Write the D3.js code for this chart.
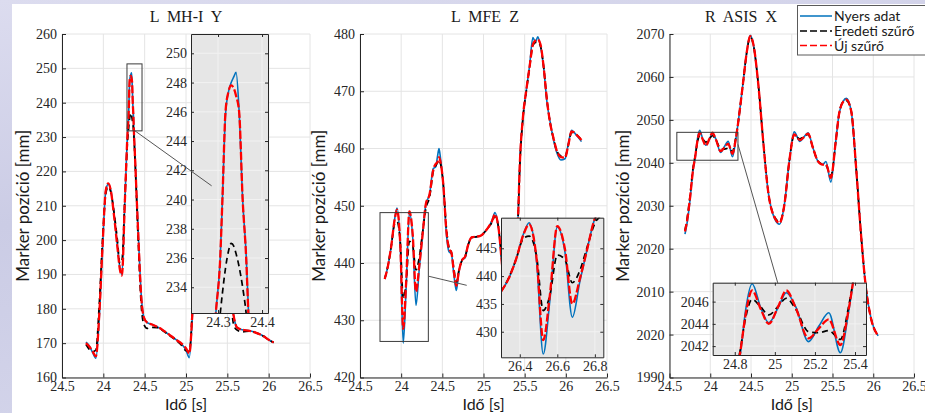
<!DOCTYPE html>
<html>
<head>
<meta charset="utf-8">
<script src="https://cdn.jsdelivr.net/npm/d3@7"></script>
<style>
  html, body { margin: 0; padding: 0; }
  body { width: 925px; height: 413px; overflow: hidden; background: #d4d5ea; }
  svg { display: block; }
</style>
</head>
<body>
<svg id="chart" width="925" height="413"></svg>
<script>
// ---- shared axis ticks ----
const xTickValues = [23.5, 24, 24.5, 25, 25.5, 26, 26.5];
const xTickLabels = ["24.5", "24", "24.5", "25", "25.5", "26", "26.5"];
const legendLabels = ["Nyers adat", "Eredeti szűrő", "Új szűrő"];

// ---- L MH-I Y ----
const mhTime = [23.79, 23.83, 23.87, 23.91, 23.95, 23.99, 24.03, 24.06, 24.09, 24.13, 24.17, 24.20, 24.225, 24.26, 24.295, 24.305, 24.31, 24.317, 24.324, 24.33, 24.336, 24.341, 24.348, 24.356, 24.364, 24.369, 24.38, 24.42, 24.46, 24.49, 24.53, 24.58, 24.65, 24.72, 24.80, 24.88, 24.95, 25.00, 25.04, 25.08, 25.12, 25.16, 25.19, 25.22, 25.26, 25.30, 25.33, 25.35, 25.38, 25.41, 25.44, 25.47, 25.51, 25.55, 25.58, 25.62, 25.68, 25.77, 25.85, 25.94, 26.00, 26.06];
const mhRaw = [170.3, 169.2, 167.3, 165.6, 177.0, 197.5, 214.5, 216.3, 214.5, 207.5, 198.5, 192.0, 190.0, 211.0, 232.2, 236.0, 240.0, 245.8, 247.4, 248.0, 248.4, 248.7, 246.0, 240.0, 236.2, 232.5, 226.5, 203.5, 183.5, 177.5, 176.0, 175.5, 174.8, 173.8, 172.4, 171.0, 169.6, 168.0, 165.8, 179.0, 200.0, 214.0, 216.0, 213.0, 205.0, 196.0, 191.0, 190.0, 208.0, 230.0, 247.0, 230.0, 203.0, 183.0, 177.5, 174.5, 173.9, 173.6, 173.0, 172.0, 171.0, 170.2];
const mhOrig = [169.6, 168.2, 167.5, 168.0, 181.0, 200.0, 213.5, 215.5, 214.0, 208.0, 200.0, 193.2, 194.0, 212.0, 229.5, 232.2, 233.6, 235.3, 236.5, 237.0, 236.8, 236.3, 235.4, 234.0, 232.2, 230.5, 225.0, 201.0, 180.5, 175.5, 174.3, 174.6, 174.5, 173.6, 172.2, 170.8, 169.3, 167.8, 167.6, 181.0, 200.0, 213.0, 215.0, 212.5, 205.0, 196.5, 192.5, 193.0, 207.0, 228.0, 236.0, 228.0, 201.0, 181.0, 175.0, 173.8, 173.3, 173.5, 173.0, 172.0, 171.0, 170.2];
const mhNew = [170.0, 169.0, 167.6, 166.2, 178.0, 198.0, 214.5, 216.5, 214.5, 207.0, 198.0, 191.5, 189.7, 211.0, 232.2, 236.0, 240.0, 246.0, 247.4, 247.8, 247.6, 247.1, 246.0, 240.0, 236.0, 232.2, 226.0, 203.0, 183.0, 177.5, 176.0, 175.5, 174.8, 173.8, 172.4, 171.0, 169.8, 168.5, 167.0, 180.0, 200.0, 214.0, 216.0, 213.0, 205.0, 196.0, 191.0, 190.0, 208.0, 230.0, 246.0, 230.0, 203.0, 183.0, 177.5, 174.5, 173.9, 173.6, 173.0, 172.0, 171.0, 170.2];
const mhYTicks = [160, 170, 180, 190, 200, 210, 220, 230, 240, 250, 260];
const mhYTickLabels = ["160", "170", "180", "190", "200", "210", "220", "230", "240", "250", "260"];
const mhInsetXTicks = [24.3, 24.4];
const mhInsetXTickLabels = ["24.3", "24.4"];
const mhInsetYTicks = [234, 236, 238, 240, 242, 244, 246, 248, 250];

// ---- L MFE Z ----
const mfeTime = [23.80, 23.84, 23.88, 23.92, 23.95, 23.99, 24.025, 24.06, 24.10, 24.14, 24.18, 24.22, 24.257, 24.30, 24.345, 24.39, 24.42, 24.44, 24.46, 24.48, 24.51, 24.55, 24.58, 24.61, 24.64, 24.67, 24.70, 24.74, 24.78, 24.81, 24.86, 24.92, 24.97, 25.02, 25.07, 25.10, 25.14, 25.18, 25.23, 25.28, 25.33, 25.38, 25.42, 25.44, 25.48, 25.52, 25.56, 25.60, 25.63, 25.66, 25.69, 25.73, 25.77, 25.81, 25.85, 25.89, 25.94, 25.99, 26.03, 26.07, 26.13, 26.19];
const mfeRaw = [437.2, 439.5, 443.0, 447.6, 449.6, 442.5, 426.0, 435.5, 448.8, 444.5, 432.6, 439.0, 444.5, 450.3, 452.0, 456.5, 456.8, 458.5, 460.0, 458.0, 454.0, 445.0, 442.0, 441.6, 438.0, 435.2, 438.3, 440.5, 441.0, 443.0, 444.5, 444.6, 444.8, 445.5, 446.5, 447.3, 448.8, 446.4, 439.0, 432.5, 434.0, 441.0, 448.0, 457.0, 465.6, 470.2, 474.5, 479.4, 478.6, 479.5, 478.0, 474.3, 468.2, 464.6, 461.5, 459.3, 458.0, 458.2, 460.8, 463.2, 462.3, 461.2];
const mfeOrig = [437.2, 439.6, 443.0, 446.8, 447.2, 443.5, 433.8, 436.5, 443.8, 443.0, 438.8, 441.0, 445.0, 449.5, 451.5, 456.0, 457.0, 457.5, 458.0, 457.2, 454.0, 446.0, 442.8, 441.9, 439.0, 436.6, 438.6, 440.5, 441.3, 443.0, 444.4, 444.6, 444.8, 445.5, 446.4, 447.0, 448.2, 446.4, 439.5, 434.0, 435.0, 441.0, 448.0, 456.5, 465.4, 470.0, 474.2, 478.0, 478.5, 478.6, 478.0, 474.3, 468.6, 464.4, 461.8, 459.6, 458.7, 458.6, 460.6, 462.8, 462.4, 461.5];
const mfeNew = [437.2, 439.5, 443.0, 447.5, 449.3, 443.0, 428.5, 436.5, 449.0, 445.0, 435.0, 439.5, 444.5, 450.3, 452.0, 456.3, 457.3, 457.6, 458.5, 457.5, 454.0, 445.5, 442.5, 441.8, 438.5, 436.0, 438.5, 440.5, 441.2, 443.0, 444.5, 444.6, 444.8, 445.5, 446.5, 447.2, 448.5, 446.4, 439.0, 433.0, 434.5, 441.0, 448.0, 456.9, 465.6, 470.2, 474.3, 478.2, 478.8, 479.0, 478.3, 474.3, 468.5, 464.4, 461.8, 459.6, 458.5, 458.4, 460.6, 463.0, 462.4, 461.5];
const mfeYTicks = [420, 430, 440, 450, 460, 470, 480];
const mfeYTickLabels = ["420", "430", "440", "450", "460", "470", "480"];
const mfeInsetXTicks = [26.4, 26.6, 26.8];
const mfeInsetXTickLabels = ["26.4", "26.6", "26.8"];
const mfeInsetYTicks = [430, 435, 440, 445];

// ---- R ASIS X ----
const asisTime = [23.69, 23.72, 23.75, 23.79, 23.817, 23.84, 23.87, 23.91, 23.946, 23.99, 24.026, 24.07, 24.127, 24.175, 24.22, 24.273, 24.31, 24.34, 24.37, 24.40, 24.45, 24.49, 24.53, 24.59, 24.65, 24.71, 24.79, 24.85, 24.91, 24.97, 25.03, 25.10, 25.15, 25.20, 25.26, 25.32, 25.38, 25.42, 25.48, 25.54, 25.58, 25.63, 25.67, 25.73, 25.79, 25.85, 25.91, 25.97, 26.06];
const asisRaw = [2023.4, 2026.5, 2031.0, 2038.5, 2041.4, 2045.2, 2047.6, 2045.4, 2044.1, 2045.5, 2046.8, 2045.5, 2042.4, 2043.8, 2045.0, 2041.4, 2045.0, 2049.0, 2053.5, 2058.2, 2066.0, 2069.7, 2067.5, 2058.2, 2045.0, 2033.4, 2027.0, 2025.7, 2030.3, 2040.4, 2047.2, 2045.0, 2046.0, 2047.0, 2043.5, 2040.4, 2039.6, 2040.3, 2035.5, 2045.0, 2051.3, 2054.3, 2055.0, 2052.0, 2038.8, 2023.3, 2010.9, 2004.0, 1999.7];
const asisOrig = [2024.3, 2027.5, 2032.0, 2039.0, 2041.8, 2044.5, 2046.2, 2045.5, 2044.8, 2045.6, 2046.3, 2045.3, 2043.3, 2043.2, 2043.4, 2042.6, 2045.5, 2049.0, 2053.5, 2058.2, 2066.0, 2069.3, 2067.4, 2058.2, 2045.0, 2033.4, 2027.4, 2026.3, 2030.3, 2040.4, 2046.4, 2045.6, 2046.1, 2046.6, 2043.5, 2040.4, 2039.6, 2039.4, 2037.0, 2045.0, 2051.3, 2054.2, 2054.5, 2052.0, 2038.8, 2023.3, 2010.9, 2004.0, 1999.7];
const asisNew = [2024.0, 2027.0, 2031.5, 2038.5, 2041.6, 2044.8, 2047.0, 2045.3, 2044.0, 2045.6, 2047.0, 2045.4, 2042.7, 2043.6, 2044.4, 2042.1, 2045.2, 2049.0, 2053.5, 2058.2, 2066.0, 2069.5, 2067.5, 2058.2, 2045.0, 2033.4, 2027.2, 2026.0, 2030.3, 2040.4, 2046.6, 2045.3, 2046.0, 2046.8, 2043.5, 2040.4, 2039.6, 2039.6, 2036.5, 2045.0, 2051.3, 2054.2, 2054.7, 2052.0, 2038.8, 2023.3, 2010.9, 2004.0, 1999.7];
const asisYTicks = [1990, 2000, 2010, 2020, 2030, 2040, 2050, 2060, 2070];
const asisYTickLabels = ["1990", "2020", "2010", "2020", "2030", "2040", "2050", "2060", "2070"];
const asisInsetXTicks = [24.8, 25, 25.2, 25.4];
const asisInsetXTickLabels = ["24.8", "25", "25.2", "25.4"];
const asisInsetYTicks = [2042, 2044, 2046];

// ---- layout & styling ----
const W = 925, H = 413;
const PLOT_TOP = 34, PLOT_BOTTOM = 377.5;
const TICK_FONT = "'Liberation Serif', 'DejaVu Serif', serif";
const TICK_SIZE = 14;
const LABEL_FONT = "Lato, 'Open Sans', sans-serif";
const AXIS_COLOR = "#262626";
const GRID_COLOR = "#e4e4e4";

const seriesStyles = [
  { key: "raw",  color: "#0072BD", width: 1.6, dash: null },
  { key: "orig", color: "#000000", width: 1.7, dash: "6,4" },
  { key: "new",  color: "#FF0000", width: 2.3, dash: "8,2.5" }
];

const panels = [
  {
    id: "mh", title: "L  MH-I  Y", titleX: 186,
    left: 62, right: 310, yLabelX: 22,
    time: mhTime, raw: mhRaw, orig: mhOrig, new: mhNew,
    yDomain: [160, 260], yTicks: mhYTicks, yLabels: mhYTickLabels,
    zoomBox: { x: [24.286, 24.468], y: [231.8, 251.3] },
    connector: [[24.383, 231.8], [25.31, 215.8]],
    inset: {
      box: { x0: 191, y0: 34, x1: 268, y1: 313 },
      xData: [24.2386, 24.4136], xAxis: [24.2386, 24.4136],
      yDomain: [232.24, 251.32],
      xTicks: mhInsetXTicks, xLabels: mhInsetXTickLabels, yTicks: mhInsetYTicks
    }
  },
  {
    id: "mfe", title: "L  MFE  Z", titleX: 485,
    left: 360, right: 607, yLabelX: 318,
    time: mfeTime, raw: mfeRaw, orig: mfeOrig, new: mfeNew,
    yDomain: [420, 480], yTicks: mfeYTicks, yLabels: mfeYTickLabels,
    zoomBox: { x: [23.743, 24.33], y: [426.3, 448.8] },
    connector: [[24.33, 437.7], [24.796, 436.1]],
    inset: {
      box: { x0: 501, y0: 217.7, x1: 603.3, y1: 357.3 },
      xData: [23.80, 24.345], xAxis: [26.30, 26.845],
      yDomain: [425.4, 450.5],
      xTicks: mfeInsetXTicks, xLabels: mfeInsetXTickLabels, yTicks: mfeInsetYTicks
    }
  },
  {
    id: "asis", title: "R  ASIS  X", titleX: 741,
    left: 669.5, right: 914, yLabelX: 622,
    time: asisTime, raw: asisRaw, orig: asisOrig, new: asisNew,
    yDomain: [1990, 2070], yTicks: asisYTicks, yLabels: asisYTickLabels,
    zoomBox: { x: [23.59, 24.34], y: [2040.6, 2047.1] },
    connector: [[24.34, 2044.3], [24.83, 2011.9]],
    inset: {
      box: { x0: 712.7, y0: 282.7, x1: 866, y1: 355 },
      xData: [23.69, 24.39], xAxis: [24.69, 25.455],
      yDomain: [2041.2, 2047.7],
      xTicks: asisInsetXTicks, xLabels: asisInsetXTickLabels, yTicks: asisInsetYTicks
    }
  }
];

const svg = d3.select("#chart");
const defs = svg.append("defs");

// page backdrop with the white sheet on top
const bg = defs.append("linearGradient").attr("id", "bgGrad")
  .attr("x1", 0).attr("y1", 0).attr("x2", 0.3).attr("y2", 1);
bg.append("stop").attr("offset", "0%").attr("stop-color", "#dcdcef");
bg.append("stop").attr("offset", "50%").attr("stop-color", "#cbcce5");
bg.append("stop").attr("offset", "100%").attr("stop-color", "#d3d4ea");
svg.append("rect").attr("width", W).attr("height", H).attr("fill", "url(#bgGrad)");
svg.append("rect").attr("x", 12).attr("y", 4).attr("width", W - 12).attr("height", H - 4).attr("fill", "#ffffff");

function styleAxis(sel, size) {
  sel.attr("font-family", TICK_FONT).attr("font-size", size);
  sel.selectAll("path.domain").attr("stroke", AXIS_COLOR).attr("stroke-width", 1);
  sel.selectAll(".tick line").attr("stroke", AXIS_COLOR).attr("stroke-width", 1);
  sel.selectAll(".tick text")
    .attr("fill", AXIS_COLOR)
    .style("font-family", TICK_FONT)
    .style("font-size", size + "px");
}

function drawSeries(g, p, x, y) {
  seriesStyles.forEach(s => {
    const pts = p.time.map((t, i) => [t, p[s.key][i]]);
    const line = d3.line().x(d => x(d[0])).y(d => y(d[1])).curve(d3.curveMonotoneX);
    g.append("path")
      .attr("d", line(pts))
      .attr("fill", "none")
      .attr("stroke", s.color)
      .attr("stroke-width", s.width)
      .attr("stroke-linejoin", "round")
      .attr("stroke-dasharray", s.dash);
  });
}

function drawPanel(p) {
  const g = svg.append("g").attr("class", "panel-" + p.id);
  const x = d3.scaleLinear().domain([23.5, 26.5]).range([p.left, p.right]);
  const y = d3.scaleLinear().domain(p.yDomain).range([PLOT_BOTTOM, PLOT_TOP]);

  // grid
  const grid = g.append("g");
  grid.selectAll("line.vx").data(xTickValues).join("line")
    .attr("x1", d => x(d)).attr("x2", d => x(d))
    .attr("y1", PLOT_TOP).attr("y2", PLOT_BOTTOM)
    .attr("stroke", GRID_COLOR).attr("stroke-width", 1);
  grid.selectAll("line.hy").data(p.yTicks).join("line")
    .attr("x1", p.left).attr("x2", p.right)
    .attr("y1", d => y(d)).attr("y2", d => y(d))
    .attr("stroke", GRID_COLOR).attr("stroke-width", 1);

  // axes
  const xa = g.append("g").attr("transform", `translate(0,${PLOT_BOTTOM})`)
    .call(d3.axisBottom(x).tickValues(xTickValues).tickFormat((d, i) => xTickLabels[i])
      .tickSizeInner(-4).tickSizeOuter(0).tickPadding(4));
  styleAxis(xa, TICK_SIZE);
  const ya = g.append("g").attr("transform", `translate(${p.left},0)`)
    .call(d3.axisLeft(y).tickValues(p.yTicks).tickFormat((d, i) => p.yLabels[i])
      .tickSizeInner(-4).tickSizeOuter(0).tickPadding(5));
  styleAxis(ya, TICK_SIZE);

  // data
  drawSeries(g, p, x, y);

  // zoom region marker
  const zb = p.zoomBox;
  g.append("rect")
    .attr("x", x(zb.x[0])).attr("y", y(zb.y[1]))
    .attr("width", x(zb.x[1]) - x(zb.x[0])).attr("height", y(zb.y[0]) - y(zb.y[1]))
    .attr("fill", "none").attr("stroke", "#3a3a3a").attr("stroke-width", 1);

  // magnified inset
  drawInset(g, p);

  // connector from marker to inset
  g.append("line")
    .attr("x1", x(p.connector[0][0])).attr("y1", y(p.connector[0][1]))
    .attr("x2", x(p.connector[1][0])).attr("y2", y(p.connector[1][1]))
    .attr("stroke", "#555555").attr("stroke-width", 1);

  // title and axis labels
  g.append("text").attr("x", p.titleX).attr("y", 22)
    .attr("text-anchor", "middle")
    .style("white-space", "pre")
    .style("font-family", TICK_FONT).style("font-size", "16px")
    .attr("fill", "#1a1a1a").text(p.title);
  g.append("text")
    .attr("transform", `translate(${p.yLabelX},${(PLOT_TOP + PLOT_BOTTOM) / 2}) rotate(-90)`)
    .attr("text-anchor", "middle").attr("dominant-baseline", "central")
    .style("font-family", LABEL_FONT).style("font-size", "17px")
    .attr("fill", "#1a1a1a").text("Marker pozíció [mm]");
  g.append("text")
    .attr("x", (p.left + p.right) / 2).attr("y", 410)
    .attr("text-anchor", "middle")
    .style("font-family", LABEL_FONT).style("font-size", "16px")
    .attr("fill", "#1a1a1a").text("Idő [s]");
}

function drawInset(g, p) {
  const ins = p.inset, b = ins.box;
  const gi = g.append("g").attr("class", "inset");
  const xd = d3.scaleLinear().domain(ins.xData).range([b.x0, b.x1]);
  const xl = d3.scaleLinear().domain(ins.xAxis).range([b.x0, b.x1]);
  const y = d3.scaleLinear().domain(ins.yDomain).range([b.y1, b.y0]);

  gi.append("rect").attr("x", b.x0).attr("y", b.y0)
    .attr("width", b.x1 - b.x0).attr("height", b.y1 - b.y0)
    .attr("fill", "#e6e6e6");

  // inner grid
  gi.selectAll("line.gx").data(ins.xTicks).join("line")
    .attr("x1", d => xl(d)).attr("x2", d => xl(d)).attr("y1", b.y0).attr("y2", b.y1)
    .attr("stroke", "#f2f2f2").attr("stroke-width", 1);
  gi.selectAll("line.gy").data(ins.yTicks).join("line")
    .attr("x1", b.x0).attr("x2", b.x1).attr("y1", d => y(d)).attr("y2", d => y(d))
    .attr("stroke", "#f2f2f2").attr("stroke-width", 1);

  const clipId = "clip-" + p.id;
  defs.append("clipPath").attr("id", clipId).append("rect")
    .attr("x", b.x0).attr("y", b.y0).attr("width", b.x1 - b.x0).attr("height", b.y1 - b.y0);
  const gl = gi.append("g").attr("clip-path", `url(#${clipId})`);
  drawSeries(gl, p, xd, y);

  // boxed axes with inward ticks
  const xb = gi.append("g").attr("transform", `translate(0,${b.y1})`)
    .call(d3.axisBottom(xl).tickValues(ins.xTicks).tickFormat((d, i) => ins.xLabels[i])
      .tickSizeInner(-3).tickSizeOuter(0).tickPadding(4));
  styleAxis(xb, TICK_SIZE);
  const xt = gi.append("g").attr("transform", `translate(0,${b.y0})`)
    .call(d3.axisTop(xl).tickValues(ins.xTicks).tickFormat("").tickSizeInner(-3).tickSizeOuter(0));
  styleAxis(xt, TICK_SIZE);
  const yl = gi.append("g").attr("transform", `translate(${b.x0},0)`)
    .call(d3.axisLeft(y).tickValues(ins.yTicks).tickFormat(d => String(d))
      .tickSizeInner(-3).tickSizeOuter(0).tickPadding(4));
  styleAxis(yl, TICK_SIZE);
  const yr = gi.append("g").attr("transform", `translate(${b.x1},0)`)
    .call(d3.axisRight(y).tickValues(ins.yTicks).tickFormat("").tickSizeInner(-3).tickSizeOuter(0));
  styleAxis(yr, TICK_SIZE);
}

panels.forEach(drawPanel);

// legend
const lg = svg.append("g").attr("class", "legend");
lg.append("rect").attr("x", 797.5).attr("y", 5.5).attr("width", 140).attr("height", 49.5)
  .attr("fill", "#ffffff").attr("stroke", "#5a5a5a").attr("stroke-width", 1);
const legendRows = [16, 31, 45.5];
seriesStyles.forEach((s, i) => {
  lg.append("line").attr("x1", 800).attr("x2", 832)
    .attr("y1", legendRows[i]).attr("y2", legendRows[i])
    .attr("stroke", s.color).attr("stroke-width", s.key === "raw" ? 1.5 : 1.6)
    .attr("stroke-dasharray", s.dash ? "7,3" : null);
  lg.append("text").attr("x", 834).attr("y", legendRows[i] + 5)
    .style("font-family", LABEL_FONT).style("font-size", "14px")
    .attr("fill", "#1a1a1a").text(legendLabels[i]);
});
</script>
</body>
</html>
